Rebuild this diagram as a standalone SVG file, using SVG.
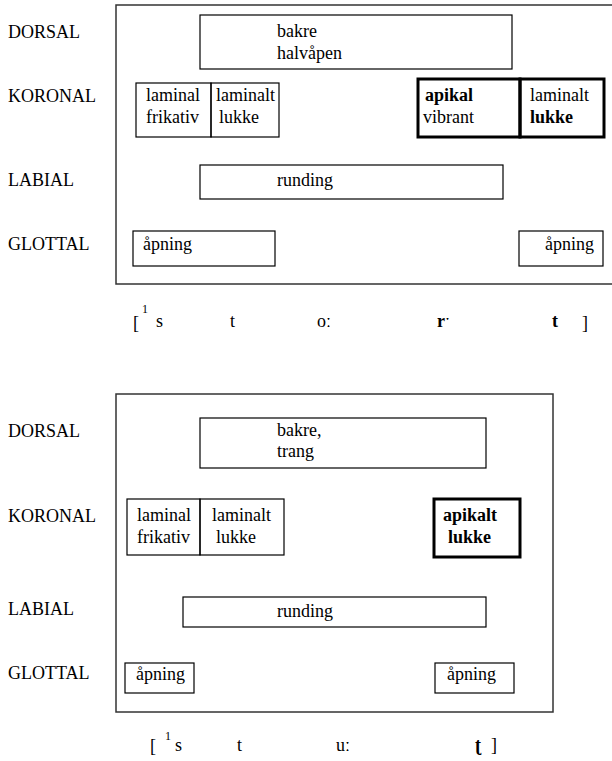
<svg xmlns="http://www.w3.org/2000/svg" width="612" height="761" viewBox="0 0 612 761">
  <style>
    text { font-family: 'Liberation Serif', 'Times New Roman', 'DejaVu Serif', serif; font-size: 18px; fill: #000; }
    .b { font-weight: bold; }
    .frame { fill: none; stroke: #333; stroke-width: 1.5; }
    .box { fill: none; stroke: #000; stroke-width: 1.2; }
    .thick { fill: none; stroke: #000; stroke-width: 3; }
    .sup { font-size: 12px; }
  </style>
  <rect width="612" height="761" fill="#fff"/>

  <!-- Gestural score 1 -->
  <g id="score1">
    <g id="tiers1">
      <text x="8" y="38">DORSAL</text>
      <text x="8" y="102">KORONAL</text>
      <text x="8" y="186">LABIAL</text>
      <text x="8" y="250">GLOTTAL</text>
    </g>
    <path id="frame1" class="frame" d="M613,5 H116 V284 H613"/>
    <g id="s1-dorsal">
      <rect class="box" x="200" y="15" width="312" height="54"/>
      <text x="277" y="37">bakre</text>
      <text x="277" y="59">halvåpen</text>
    </g>
    <g id="s1-lam-frik">
      <rect class="box" x="136" y="83" width="75" height="54"/>
      <text x="146" y="101">laminal</text>
      <text x="146" y="123">frikativ</text>
    </g>
    <g id="s1-lam-lukke">
      <rect class="box" x="211" y="83" width="68" height="54"/>
      <text x="216" y="101">laminalt</text>
      <text x="219" y="123">lukke</text>
    </g>
    <g id="s1-apikal">
      <rect class="thick" x="418" y="79" width="102" height="58"/>
      <text class="b" x="425" y="101">apikal</text>
      <text x="423" y="123">vibrant</text>
    </g>
    <g id="s1-lam-lukke2">
      <rect class="thick" x="520" y="79" width="84" height="58"/>
      <text x="530" y="101">laminalt</text>
      <text class="b" x="530" y="123">lukke</text>
    </g>
    <g id="s1-labial">
      <rect class="box" x="200" y="165" width="303" height="34"/>
      <text x="277" y="186">runding</text>
    </g>
    <g id="s1-glottal-a">
      <rect class="box" x="133" y="231" width="142" height="35"/>
      <text x="143" y="250">åpning</text>
    </g>
    <g id="s1-glottal-b">
      <rect class="box" x="519" y="231" width="84" height="35"/>
      <text x="545" y="250">åpning</text>
    </g>
    <g id="transcription1">
      <text x="133" y="329">[</text>
      <text class="sup" x="142" y="313">1</text>
      <text x="156" y="327">s</text>
      <text x="230" y="327">t</text>
      <text x="317" y="327">oː</text>
      <text class="b" x="437" y="327">rˑ</text>
      <text class="b" x="552" y="327">t</text>
      <text x="582" y="329">]</text>
    </g>
  </g>

  <!-- Gestural score 2 -->
  <g id="score2">
    <g id="tiers2">
      <text x="8" y="437">DORSAL</text>
      <text x="8" y="522">KORONAL</text>
      <text x="8" y="615">LABIAL</text>
      <text x="8" y="679">GLOTTAL</text>
    </g>
    <rect id="frame2" class="frame" x="116" y="394" width="437" height="318"/>
    <g id="s2-dorsal">
      <rect class="box" x="200" y="418" width="286" height="50"/>
      <text x="277" y="436">bakre,</text>
      <text x="277" y="457">trang</text>
    </g>
    <g id="s2-lam-frik">
      <rect class="box" x="127" y="499" width="73" height="56"/>
      <text x="137" y="521">laminal</text>
      <text x="137" y="543">frikativ</text>
    </g>
    <g id="s2-lam-lukke">
      <rect class="box" x="200" y="499" width="84" height="56"/>
      <text x="212" y="521">laminalt</text>
      <text x="216" y="543">lukke</text>
    </g>
    <g id="s2-apikal">
      <rect class="thick" x="434" y="499" width="86" height="58"/>
      <text class="b" x="443" y="521">apikalt</text>
      <text class="b" x="448" y="543">lukke</text>
    </g>
    <g id="s2-labial">
      <rect class="box" x="183" y="597" width="303" height="30"/>
      <text x="277" y="617">runding</text>
    </g>
    <g id="s2-glottal-a">
      <rect class="box" x="125" y="663" width="69" height="30"/>
      <text x="136" y="680">åpning</text>
    </g>
    <g id="s2-glottal-b">
      <rect class="box" x="435" y="663" width="79" height="30"/>
      <text x="447" y="680">åpning</text>
    </g>
    <g id="transcription2">
      <text x="150" y="752">[</text>
      <text class="sup" x="165" y="740">1</text>
      <text x="175" y="751">s</text>
      <text x="237" y="751">t</text>
      <text x="336" y="751">uː</text>
      <text class="b" x="475" y="751">ʈ</text>
      <text x="491" y="751">]</text>
    </g>
  </g>
</svg>
